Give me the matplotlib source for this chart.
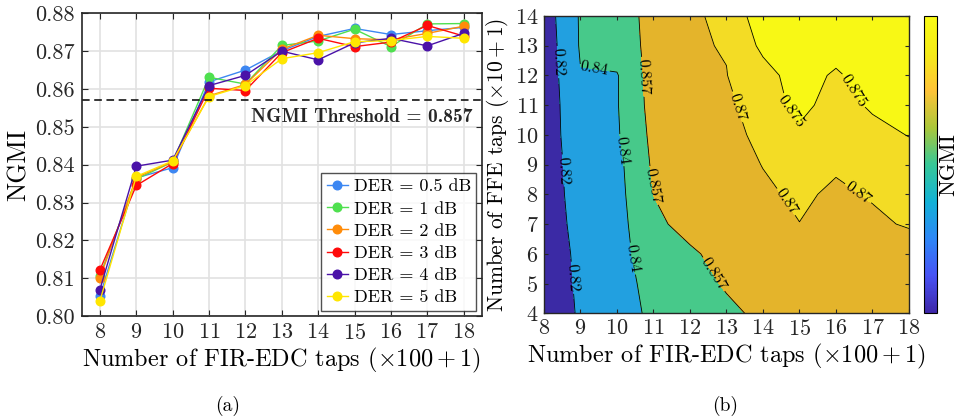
import matplotlib
matplotlib.use("Agg")
import matplotlib.pyplot as plt
from matplotlib.colors import LinearSegmentedColormap, Normalize
from matplotlib.cm import ScalarMappable
import numpy as np

plt.rcParams["font.family"] = "serif"
plt.rcParams["font.serif"] = ["cmr10"]
plt.rcParams["mathtext.fontset"] = "cm"
plt.rcParams["axes.formatter.use_mathtext"] = True

# ---- (a) NGMI vs FIR-EDC taps ----
fir_taps = [8, 9, 10, 11, 12, 13, 14, 15, 16, 17, 18]
der_labels = ["DER = 0.5 dB", "DER = 1 dB", "DER = 2 dB",
              "DER = 3 dB", "DER = 4 dB", "DER = 5 dB"]
der_colors = ["#3d87f2", "#4fe04f", "#ff8c0a", "#ff0a0a", "#4a12a8", "#ffe600"]
ngmi_der05 = [0.8053, 0.8365, 0.8392, 0.8619, 0.8650, 0.8701, 0.8739, 0.8760, 0.8744, 0.8754, 0.8763]
ngmi_der1 = [0.8107, 0.8362, 0.8407, 0.8631, 0.8613, 0.8715, 0.8727, 0.8758, 0.8712, 0.8772, 0.8773]
ngmi_der2 = [0.8101, 0.8366, 0.8408, 0.8582, 0.8612, 0.8705, 0.8742, 0.8733, 0.8730, 0.8747, 0.8766]
ngmi_der3 = [0.8122, 0.8345, 0.8403, 0.8602, 0.8596, 0.8696, 0.8734, 0.8712, 0.8724, 0.8768, 0.8740]
ngmi_der4 = [0.8070, 0.8396, 0.8412, 0.8609, 0.8636, 0.8700, 0.8677, 0.8722, 0.8734, 0.8714, 0.8747]
ngmi_der5 = [0.8040, 0.8369, 0.8410, 0.8580, 0.8609, 0.8680, 0.8696, 0.8725, 0.8728, 0.8739, 0.8734]
threshold = 0.857

# ---- (b) NGMI map, rows = FFE taps 4..14, cols = FIR-EDC taps 8..18 ----
ffe_taps = [4, 5, 6, 7, 8, 9, 10, 11, 12, 13, 14]
ngmi_map = [
    [0.8050, 0.8226, 0.8329, 0.8432, 0.8487, 0.8542, 0.8598, 0.8620, 0.8640, 0.8650, 0.8660],
    [0.8060, 0.8237, 0.8342, 0.8447, 0.8515, 0.8584, 0.8620, 0.8645, 0.8660, 0.8670, 0.8680],
    [0.8070, 0.8248, 0.8357, 0.8465, 0.8546, 0.8627, 0.8650, 0.8665, 0.8670, 0.8665, 0.8660],
    [0.8080, 0.8270, 0.8340, 0.8534, 0.8624, 0.8650, 0.8670, 0.8699, 0.8685, 0.8687, 0.8707],
    [0.8090, 0.8286, 0.8346, 0.8572, 0.8635, 0.8665, 0.8688, 0.8712, 0.8688, 0.8706, 0.8720],
    [0.8095, 0.8297, 0.8355, 0.8594, 0.8645, 0.8670, 0.8702, 0.8718, 0.8709, 0.8720, 0.8710],
    [0.8100, 0.8317, 0.8382, 0.8611, 0.8655, 0.8680, 0.8716, 0.8734, 0.8725, 0.8723, 0.8753],
    [0.8105, 0.8321, 0.8390, 0.8630, 0.8665, 0.8698, 0.8705, 0.8774, 0.8715, 0.8762, 0.8775],
    [0.8071, 0.8393, 0.8390, 0.8640, 0.8675, 0.8699, 0.8732, 0.8772, 0.8743, 0.8775, 0.8780],
    [0.8078, 0.8417, 0.8480, 0.8619, 0.8696, 0.8702, 0.8761, 0.8775, 0.8772, 0.8780, 0.8785],
    [0.8097, 0.8420, 0.8480, 0.8630, 0.8680, 0.8730, 0.8766, 0.8770, 0.8780, 0.8780, 0.8790],
]
contour_levels = [0.82, 0.84, 0.857, 0.87, 0.875]

series = [ngmi_der05, ngmi_der1, ngmi_der2, ngmi_der3, ngmi_der4, ngmi_der5]

TICK_FS = 16
XLABEL_FS = 17.5
dark = "#262626"

fig = plt.figure(figsize=(9.64, 4.19), dpi=100)

# left panel
ax1 = fig.add_axes([0.0848, 0.2458, 0.415, 0.7224])
for vals, c, lab in zip(series, der_colors, der_labels):
    ax1.plot(fir_taps, vals, "-o", color=c, lw=1.0, ms=6.2, label=lab)
ax1.axhline(threshold, color="black", ls=(0, (5, 3)), lw=1.1)
ax1.text(18.25, threshold - 0.0045, "NGMI Threshold = 0.857", family="cmb10",
         ha="right", va="center", fontsize=14, color=dark)
ax1.set_xlim(7.5, 18.5)
ax1.set_ylim(0.80, 0.88)
ax1.set_xticks(fir_taps)
ax1.set_yticks(np.arange(0.80, 0.8801, 0.01))
ax1.yaxis.set_major_formatter(plt.FormatStrFormatter("%.2f"))
ax1.grid(True, color="#e2e2e2", lw=1.2)
ax1.set_axisbelow(True)
ax1.tick_params(direction="in", top=True, right=True, length=4, labelsize=TICK_FS,
                colors=dark, pad=5)
ax1.set_xlabel(r"Number of FIR-EDC taps $(\times 100 + 1)$", fontsize=XLABEL_FS, labelpad=2)
ax1.set_ylabel("NGMI", fontsize=18.5, labelpad=3)
leg = ax1.legend(loc="lower right", fontsize=13, frameon=True, fancybox=False,
                 handlelength=1.2, handletextpad=0.3, labelspacing=0.36,
                 borderpad=0.3, borderaxespad=0.3, edgecolor=dark)
leg.get_frame().set_linewidth(1.0)
for s in ax1.spines.values():
    s.set_linewidth(1.2)
    s.set_color(dark)

# right panel
parula = LinearSegmentedColormap.from_list("parula", [
    (0.2422, 0.1504, 0.6603), (0.2810, 0.3228, 0.9579), (0.1786, 0.5289, 0.9682),
    (0.0689, 0.6948, 0.8394), (0.2161, 0.7843, 0.5923), (0.6720, 0.7793, 0.2227),
    (0.9970, 0.7659, 0.2199), (0.9598, 0.9218, 0.0948), (0.9769, 0.9839, 0.0805)])
fill_colors = ["#3b2aa5", "#22a0e0", "#47c98a", "#e4b42b", "#f3dc25", "#f8f815"]

ax2 = fig.add_axes([0.5643, 0.2523, 0.3786, 0.7096])
X, Y = np.meshgrid(fir_taps, ffe_taps)
Z = np.array(ngmi_map)
ax2.contourf(X, Y, Z, levels=[0.80] + contour_levels + [0.88], colors=fill_colors)
cs = ax2.contour(X, Y, Z, levels=contour_levels, colors="black", linewidths=0.6)
ax2.clabel(cs, fmt=lambda v: f"{v:g}", fontsize=11.5, inline=True, inline_spacing=2,
           manual=[(8.39, 12.45), (8.5, 8.8), (8.83, 5.2),
                   (9.33, 11.95), (10.2, 9.5), (10.48, 5.85),
                   (10.7, 11.95), (11.1, 8.3), (12.77, 5.4),
                   (13.2, 10.9), (14.7, 7.8), (16.7, 8.2),
                   (14.9, 10.9), (16.5, 11.5)])
ax2.set_xlim(8, 18)
ax2.set_ylim(4, 14)
ax2.set_xticks(fir_taps)
ax2.set_yticks(ffe_taps)
ax2.tick_params(direction="in", top=True, right=True, length=3, labelsize=TICK_FS,
                colors=dark, pad=4)
ax2.set_xlabel(r"Number of FIR-EDC taps $(\times 100 + 1)$", fontsize=XLABEL_FS, labelpad=2)
ax2.set_ylabel(r"Number of FFE taps $(\times 10 + 1)$", fontsize=15.5, labelpad=3)
for s in ax2.spines.values():
    s.set_linewidth(1.0)
    s.set_color(dark)

cax = fig.add_axes([0.9585, 0.2523, 0.0138, 0.7096])
cb = fig.colorbar(ScalarMappable(norm=Normalize(0.80, 0.88), cmap=parula), cax=cax)
cb.set_ticks([])
cb.outline.set_linewidth(0.8)
cb.set_label("NGMI", fontsize=16, labelpad=1)

fig.text(0.2365, 0.03, "(a)", ha="center", va="center", fontsize=14)
fig.text(0.752, 0.03, "(b)", ha="center", va="center", fontsize=14)

fig.savefig("out.png", dpi=100)
